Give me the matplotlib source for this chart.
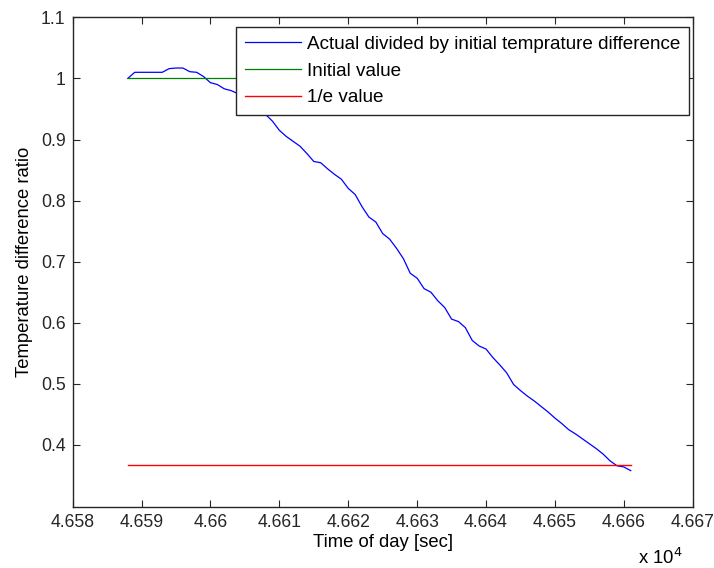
import numpy as np
import matplotlib
matplotlib.use("Agg")
import matplotlib.pyplot as plt

plt.rcParams['font.family'] = ['Liberation Sans', 'DejaVu Sans']

# time of day [sec], one sample per second
t_start = 46588
ratio = [1.000, 1.010, 1.010, 1.010, 1.010, 1.010, 1.016, 1.017, 1.017, 1.011,
         1.010, 1.003, 0.993, 0.990, 0.983, 0.980, 0.975, 0.965, 0.958, 0.950,
         0.941, 0.930, 0.915, 0.905, 0.897, 0.889, 0.877, 0.864, 0.862, 0.852,
         0.843, 0.835, 0.820, 0.810, 0.790, 0.773, 0.765, 0.746, 0.737, 0.722,
         0.705, 0.681, 0.673, 0.656, 0.650, 0.636, 0.625, 0.606, 0.602, 0.592,
         0.571, 0.562, 0.557, 0.543, 0.531, 0.518, 0.499, 0.489, 0.480, 0.472,
         0.463, 0.454, 0.444, 0.435, 0.425, 0.418, 0.410, 0.402, 0.394, 0.385,
         0.374, 0.366, 0.364, 0.358]
time = t_start + np.arange(len(ratio))

initial_value = 1.0
e_value = 1 / np.e

xticks = [46580, 46590, 46600, 46610, 46620, 46630, 46640, 46650, 46660, 46670]
xtick_labels = ['4.658', '4.659', '4.66', '4.661', '4.662', '4.663', '4.664', '4.665', '4.666', '4.667']
yticks = [0.4, 0.5, 0.6, 0.7, 0.8, 0.9, 1.0, 1.1]
ytick_labels = ['0.4', '0.5', '0.6', '0.7', '0.8', '0.9', '1', '1.1']

fs = 13.3

fig = plt.figure(figsize=(7.14, 5.68), dpi=100)
ax = fig.add_axes([0.1018, 0.1069, 0.8684, 0.8626])

ax.plot(time, ratio, color=(0, 0, 1), lw=0.9, label='Actual divided by initial temprature difference')
ax.plot([time[0], time[-1]], [initial_value, initial_value], color=(0, 0.5, 0), lw=0.9, label='Initial value')
ax.plot([time[0], time[-1]], [e_value, e_value], color=(1, 0, 0), lw=1.0, label='1/e value')

ax.set_xlim(46580, 46670)
ax.set_ylim(0.298, 1.1)
ax.set_xticks(xticks)
ax.set_xticklabels(xtick_labels)
ax.set_yticks(yticks)
ax.set_yticklabels(ytick_labels)
ax.tick_params(direction='in', length=5, width=0.8, top=True, right=True,
               labelsize=12.7, colors='#262626', pad=5)
for s in ax.spines.values():
    s.set_linewidth(1.0)
    s.set_color('#262626')

ax.set_xlabel('Time of day [sec]', fontsize=fs, labelpad=2)
ax.set_ylabel('Temperature difference ratio', fontsize=fs, labelpad=6)
ax.text(0.984, -0.083, r'x 10$^4$', transform=ax.transAxes, ha='right', va='top', fontsize=fs)

leg = ax.legend(loc='upper left', bbox_to_anchor=(0.2634, 0.9796), borderaxespad=0,
                fancybox=False, framealpha=1, edgecolor='#262626', fontsize=13.6,
                handlelength=3.0, handletextpad=0.3, labelspacing=0.5, borderpad=0.45)
leg.get_frame().set_linewidth(1.0)

fig.savefig('out.png', dpi=100)
